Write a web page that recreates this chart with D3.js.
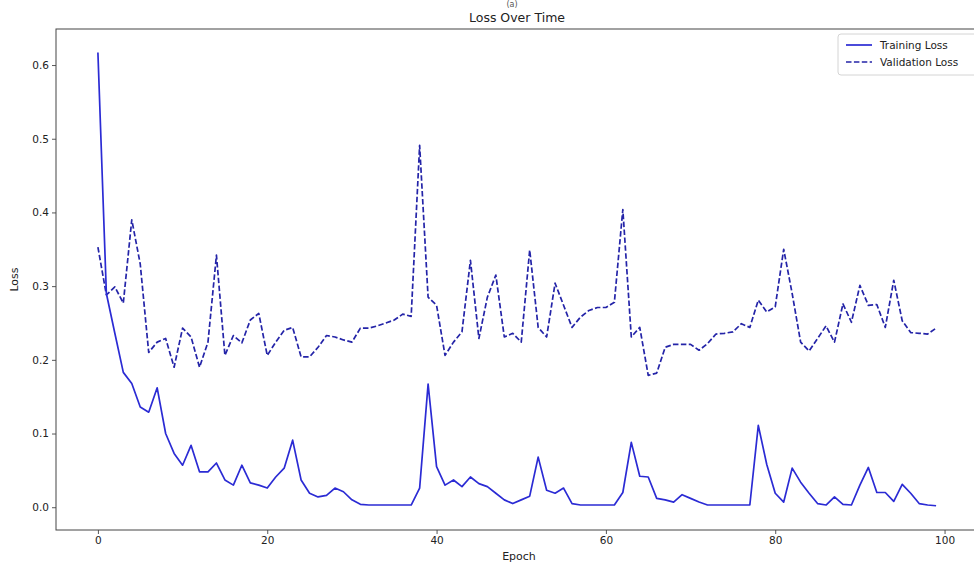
<!DOCTYPE html>
<html>
<head>
<meta charset="utf-8">
<script src="https://cdn.jsdelivr.net/npm/d3@7/dist/d3.min.js"></script>
<style>
  html, body { margin: 0; padding: 0; background: #fff; overflow: hidden; }
  svg { display: block; font-family: "DejaVu Sans", sans-serif; }
</style>
</head>
<body>
<svg id="chart" width="974" height="566"></svg>
<script>
// Per-epoch loss values
const trainingLoss = [
  0.617, 0.290, 0.236, 0.183, 0.168, 0.136, 0.129, 0.162, 0.100, 0.073,
  0.057, 0.084, 0.048, 0.048, 0.060, 0.037, 0.030, 0.057, 0.033, 0.030,
  0.026, 0.041, 0.053, 0.091, 0.037, 0.019, 0.014, 0.016, 0.026, 0.021,
  0.010, 0.004, 0.003, 0.003, 0.003, 0.003, 0.003, 0.003, 0.026, 0.167,
  0.055, 0.030, 0.037, 0.028, 0.041, 0.032, 0.028, 0.019, 0.010, 0.005,
  0.010, 0.015, 0.068, 0.023, 0.019, 0.026, 0.005, 0.003, 0.003, 0.003,
  0.003, 0.003, 0.020, 0.088, 0.042, 0.041, 0.012, 0.010, 0.007, 0.017,
  0.012, 0.007, 0.003, 0.003, 0.003, 0.003, 0.003, 0.003, 0.111, 0.058,
  0.019, 0.007, 0.053, 0.034, 0.019, 0.005, 0.003, 0.014, 0.004, 0.003,
  0.030, 0.054, 0.020, 0.020, 0.008, 0.031, 0.019, 0.005, 0.003, 0.002
];
const validationLoss = [
  0.353, 0.288, 0.299, 0.277, 0.390, 0.330, 0.210, 0.224, 0.229, 0.190,
  0.243, 0.231, 0.190, 0.224, 0.342, 0.206, 0.233, 0.223, 0.254, 0.263,
  0.206, 0.224, 0.240, 0.244, 0.204, 0.204, 0.217, 0.233, 0.231, 0.227,
  0.224, 0.243, 0.243, 0.246, 0.250, 0.254, 0.262, 0.259, 0.491, 0.285,
  0.274, 0.206, 0.224, 0.238, 0.335, 0.229, 0.285, 0.315, 0.231, 0.236,
  0.224, 0.349, 0.244, 0.231, 0.304, 0.274, 0.244, 0.258, 0.267, 0.271,
  0.271, 0.278, 0.404, 0.231, 0.244, 0.179, 0.182, 0.217, 0.221, 0.221,
  0.221, 0.213, 0.222, 0.235, 0.236, 0.238, 0.249, 0.244, 0.281, 0.265,
  0.272, 0.350, 0.290, 0.224, 0.212, 0.229, 0.246, 0.224, 0.276, 0.251,
  0.301, 0.274, 0.275, 0.244, 0.308, 0.253, 0.237, 0.236, 0.235, 0.243
];
const epochs = d3.range(trainingLoss.length);
const xTicks = [0, 20, 40, 60, 80, 100];
const yTicks = [0.0, 0.1, 0.2, 0.3, 0.4, 0.5, 0.6];

const svg = d3.select("#chart");
const plot = { left: 56, right: 978, top: 29, bottom: 530 };

const x = d3.scaleLinear().domain([-4.95, 103.95]).range([plot.left, plot.right]);
const y = d3.scaleLinear().domain([-0.0309, 0.6489]).range([plot.bottom, plot.top]);

const axisColor = "#444";
const textColor = "#222";

// clip the series to the axes area
svg.append("clipPath").attr("id", "plotClip")
  .append("rect")
  .attr("x", plot.left).attr("y", plot.top)
  .attr("width", plot.right - plot.left).attr("height", plot.bottom - plot.top);

// axes
const xAxis = svg.append("g")
  .attr("transform", `translate(0,${plot.bottom})`)
  .call(d3.axisBottom(x).tickValues(xTicks).tickFormat(d3.format("d")).tickSize(4).tickPadding(3));
const yAxis = svg.append("g")
  .attr("transform", `translate(${plot.left},0)`)
  .call(d3.axisLeft(y).tickValues(yTicks).tickFormat(d3.format(".1f")).tickSize(4).tickPadding(3));

[xAxis, yAxis].forEach(g => {
  g.select(".domain").remove();
  g.selectAll(".tick line").attr("stroke", axisColor).attr("stroke-width", 0.9);
  g.selectAll(".tick text").attr("fill", textColor).attr("font-size", 10.5)
    .attr("font-family", "'DejaVu Sans', sans-serif");
});

// frame
svg.append("rect")
  .attr("x", plot.left).attr("y", plot.top)
  .attr("width", plot.right - plot.left).attr("height", plot.bottom - plot.top)
  .attr("fill", "none").attr("stroke", axisColor).attr("stroke-width", 1);

// series
const line = d3.line().x((d, i) => x(epochs[i])).y(d => y(d));
const series = svg.append("g").attr("clip-path", "url(#plotClip)");

series.append("path")
  .datum(validationLoss)
  .attr("d", line)
  .attr("fill", "none")
  .attr("stroke", "#2424a8")
  .attr("stroke-width", 1.7)
  .attr("stroke-dasharray", "5.5,2.4")
  .attr("stroke-linejoin", "round");

series.append("path")
  .datum(trainingLoss)
  .attr("d", line)
  .attr("fill", "none")
  .attr("stroke", "#2b2bd4")
  .attr("stroke-width", 1.7)
  .attr("stroke-linejoin", "round");

// titles and labels
svg.append("text")
  .attr("x", 512).attr("y", 7)
  .attr("text-anchor", "middle")
  .attr("font-size", 8).attr("fill", "#555")
  .text("(a)");

svg.append("text")
  .attr("x", 517).attr("y", 22)
  .attr("text-anchor", "middle")
  .attr("font-size", 12.5).attr("fill", textColor)
  .text("Loss Over Time");

svg.append("text")
  .attr("x", 519).attr("y", 560)
  .attr("text-anchor", "middle")
  .attr("font-size", 11).attr("fill", textColor)
  .text("Epoch");

svg.append("text")
  .attr("transform", `translate(18,${(plot.top + plot.bottom) / 2}) rotate(-90)`)
  .attr("text-anchor", "middle")
  .attr("font-size", 11).attr("fill", textColor)
  .text("Loss");

// legend
const legend = svg.append("g").attr("transform", "translate(838,34)");
legend.append("rect")
  .attr("x", 0).attr("y", 0).attr("width", 142).attr("height", 41)
  .attr("rx", 3).attr("fill", "#fff").attr("fill-opacity", 0.85)
  .attr("stroke", "#d4d4d4").attr("stroke-width", 1);

const legendItems = [
  { label: "Training Loss", color: "#2b2bd4", dash: null },
  { label: "Validation Loss", color: "#2424a8", dash: "5.5,2.4" }
];
legendItems.forEach((item, i) => {
  const cy = 11 + i * 17;
  legend.append("line")
    .attr("x1", 8).attr("x2", 34).attr("y1", cy).attr("y2", cy)
    .attr("stroke", item.color).attr("stroke-width", 1.7)
    .attr("stroke-dasharray", item.dash);
  legend.append("text")
    .attr("x", 42).attr("y", cy + 4)
    .attr("font-size", 10.5).attr("fill", textColor)
    .text(item.label);
});
</script>
</body>
</html>
